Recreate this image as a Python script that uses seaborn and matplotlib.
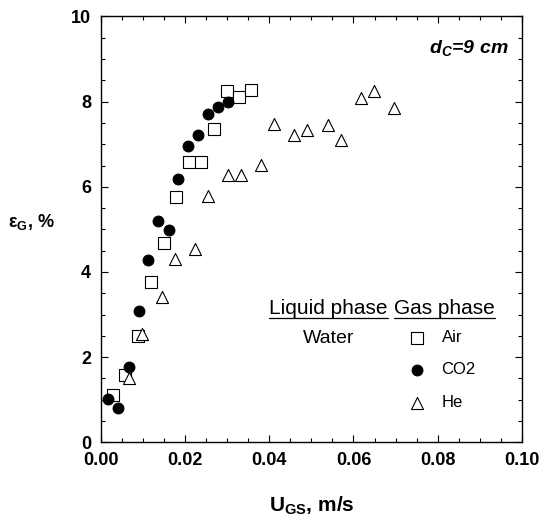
import pandas as pd
import seaborn as sns
import matplotlib.pyplot as plt
from matplotlib.lines import Line2D
from matplotlib.ticker import MultipleLocator, FormatStrFormatter

# superficial gas velocity (m/s) and gas holdup (%) for each gas
air_u = [0.0028, 0.0057, 0.0089, 0.0119, 0.0149, 0.0179, 0.0209, 0.0239, 0.0268, 0.0299, 0.0329, 0.0357]
air_eps = [1.11, 1.59, 2.50, 3.77, 4.69, 5.76, 6.59, 6.59, 7.36, 8.26, 8.12, 8.27]

co2_u = [0.0018, 0.0042, 0.0066, 0.0090, 0.0113, 0.0136, 0.0161, 0.0184, 0.0208, 0.0231, 0.0255, 0.0278, 0.0302]
co2_eps = [1.01, 0.81, 1.76, 3.08, 4.27, 5.19, 4.98, 6.19, 6.95, 7.22, 7.71, 7.87, 8.00]

he_u = [0.0066, 0.0098, 0.0145, 0.0176, 0.0224, 0.0254, 0.0302, 0.0333, 0.0380, 0.0412,
        0.0459, 0.0490, 0.0539, 0.0570, 0.0617, 0.0649, 0.0696]
he_eps = [1.52, 2.55, 3.41, 4.30, 4.55, 5.78, 6.28, 6.28, 6.52, 7.48,
          7.22, 7.34, 7.45, 7.10, 8.08, 8.26, 7.84]

sns.set_style("ticks")
plt.rcParams['font.family'] = ['Liberation Sans', 'DejaVu Sans']
plt.rcParams['text.color'] = 'black'
plt.rcParams['axes.labelcolor'] = 'black'
plt.rcParams['xtick.color'] = 'black'
plt.rcParams['ytick.color'] = 'black'

fig = plt.figure(figsize=(5.42, 5.17), dpi=100)
ax = fig.add_axes([0.186, 0.1445, 0.777, 0.8236])

air = pd.DataFrame({"U": air_u, "eps": air_eps})
he = pd.DataFrame({"U": he_u, "eps": he_eps})
co2 = pd.DataFrame({"U": co2_u, "eps": co2_eps})

sns.scatterplot(data=air, x="U", y="eps", marker="s", s=75, color="white",
                edgecolor="black", linewidth=0.8, label="Air", ax=ax, zorder=3)
sns.scatterplot(data=co2, x="U", y="eps", marker="o", s=60, color="black",
                edgecolor="black", linewidth=0.8, label="CO2", ax=ax, zorder=5)
sns.scatterplot(data=he, x="U", y="eps", marker="^", s=75, color="white",
                edgecolor="black", linewidth=0.8, label="He", ax=ax, zorder=4)

ax.set_xlim(0, 0.10)
ax.set_ylim(0, 10)
ax.xaxis.set_major_locator(MultipleLocator(0.02))
ax.xaxis.set_minor_locator(MultipleLocator(0.005))
ax.xaxis.set_major_formatter(FormatStrFormatter('%.2f'))
ax.yaxis.set_major_locator(MultipleLocator(2))
ax.yaxis.set_minor_locator(MultipleLocator(0.5))
ax.tick_params(which='both', direction='in', top=True, right=True, width=0.8,
               color='black', labelcolor='black')
ax.tick_params(which='major', length=5, pad=7, labelsize=13)
ax.tick_params(which='minor', length=3.2)
for lab in ax.get_xticklabels() + ax.get_yticklabels():
    lab.set_fontweight('bold')
for sp in ax.spines.values():
    sp.set_linewidth(1.0)
    sp.set_color('black')

ax.set_xlabel(r'U$_\mathdefault{GS}$, m/s', fontsize=15, fontweight='bold', color='black')
ax.xaxis.set_label_coords(0.5, -0.122)
ax.set_ylabel(r'ε$_\mathdefault{G}$, %', fontsize=13, fontweight='bold', color='black',
              rotation=0, ha='center', va='center')
ax.yaxis.set_label_coords(-0.165, 0.517)

ax.text(0.967, 0.912, r'd$_\mathdefault{C}$=9 cm', transform=ax.transAxes,
        ha='right', va='baseline', fontsize=14, fontweight='bold', fontstyle='italic')

t1 = ax.text(0.400, 0.301, 'Liquid phase', transform=ax.transAxes,
             ha='left', va='baseline', fontsize=15)
t2 = ax.text(0.696, 0.301, 'Gas phase', transform=ax.transAxes,
             ha='left', va='baseline', fontsize=15)
ax.text(0.480, 0.2325, 'Water', transform=ax.transAxes,
        ha='left', va='baseline', fontsize=14)

leg = ax.legend(loc='upper left', bbox_to_anchor=(0.730, 0.264), frameon=False,
                fontsize=12, handlelength=1.0, handletextpad=1.0, labelspacing=1.05,
                borderpad=0, borderaxespad=0)
for txt in leg.get_texts():
    txt.set_color('black')

# underline the two header texts
fig.canvas.draw()
inv = fig.transFigure.inverted()
for t in (t1, t2):
    bb = t.get_window_extent()
    base = ax.transAxes.transform(t.get_position())[1]
    (fx0, fy), (fx1, _) = inv.transform([(bb.x0, base - 4), (bb.x1, base - 4)])
    fig.add_artist(Line2D([fx0, fx1], [fy, fy], color='black', lw=0.9))

fig.savefig('out.png', dpi=100)
